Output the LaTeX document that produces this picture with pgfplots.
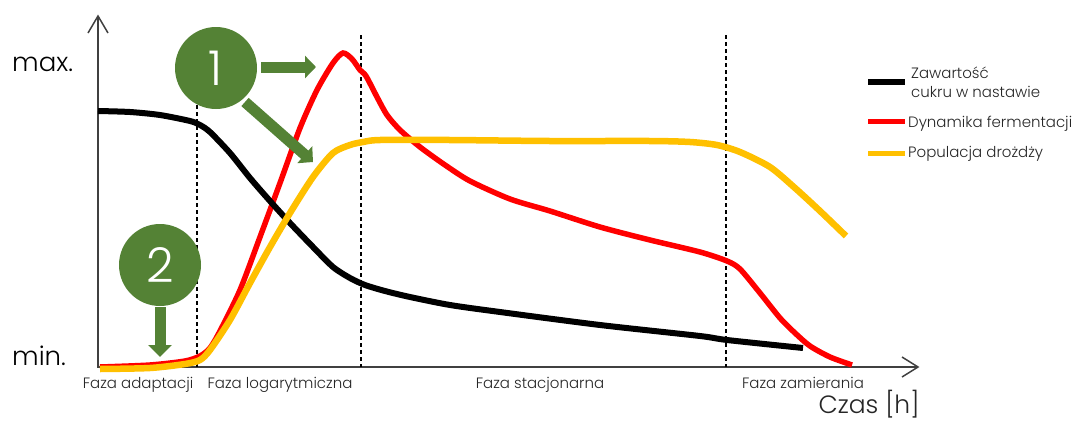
\documentclass[border=0pt]{standalone}
\usepackage{pgfplots}
\pgfplotsset{compat=1.18}
\usepackage{fontspec}
\setmainfont{Poppins}[UprightFont={* Light}]
\usetikzlibrary{arrows.meta}
\definecolor{cred}{RGB}{255,0,0}
\definecolor{cyel}{RGB}{255,192,0}
\definecolor{cgreen}{RGB}{84,130,53}
\definecolor{axgray}{RGB}{64,64,64}
\definecolor{txt}{RGB}{38,38,38}
\begin{document}
\begin{tikzpicture}
\begin{axis}[width=1080pt,height=421pt,scale only axis,
  xmin=0,xmax=1080,ymin=0,ymax=421,y dir=reverse,hide axis,clip=false]
\path (axis cs:0,0) rectangle (axis cs:1080,421);
% axes
\draw[axgray,line width=1.5pt] (axis cs:98,16) -- (axis cs:98,367) -- (axis cs:918,367);
\draw[axgray,line width=1.5pt,line join=miter] (axis cs:88,33) -- (axis cs:98,16) -- (axis cs:108,33);
\draw[axgray,line width=1.5pt,line join=miter] (axis cs:902,357) -- (axis cs:918,367) -- (axis cs:902,377);
% dashed phase lines
\draw[black,line width=1.2pt,dash pattern=on 4pt off 3pt] (axis cs:197,105) -- (axis cs:197,367);
\draw[black,line width=1.2pt,dash pattern=on 4pt off 3pt] (axis cs:361,35) -- (axis cs:361,367);
\draw[black,line width=1.2pt,dash pattern=on 4pt off 3pt] (axis cs:726,35) -- (axis cs:726,367);
% data
\addplot[cred,line width=5.5pt,smooth,tension=0.45] coordinates {
(100,367)(150,365)(185,361)(200,356)(210,348)(220,331)(240,290)(260,237)(280,183)(300,128)(317,90)(333,63)(343,53)(352,59)(360,70)(366,76)(377,97)(387,115)(400,130)(420,147)(445,165)(470,181)(510,199)(550,211)(600,227)(650,240)(700,252)(727,261)(740,269)(760,293)(780,318)(795,333)(810,346)(830,357)(852,365)};
\addplot[black,line width=6pt,smooth,tension=0.45] coordinates {
(98,111)(130,112)(160,115)(190,121)(200,125)(210,132)(230,153)(250,178)(270,201)(290,223)(313,247)(333,267)(350,278)(365,285)(385,291)(410,297)(450,305)(500,312)(600,325)(700,336)(727,340)(803,348)};
\addplot[cyel,line width=6.5pt,smooth,tension=0.45] coordinates {
(100,369)(150,368)(185,364)(200,360)(210,350)(230,320)(250,283)(270,247)(290,213)(313,177)(333,153)(350,145)(363,142)(380,140)(450,140)(550,141)(650,141)(690,142)(717,145)(740,152)(770,167)(795,188)(820,211)(846,236)};
% labels
\node[anchor=base west,inner sep=0,font=\fontsize{26}{30}\selectfont,black] at (axis cs:12,71) {max.};
\node[anchor=base west,inner sep=0,font=\fontsize{26}{30}\selectfont,black] at (axis cs:12,365) {min.};
\node[anchor=base,inner sep=0,font=\fontsize{15}{17}\selectfont,txt] at (axis cs:138,388) {Faza adaptacji};
\node[anchor=base,inner sep=0,font=\fontsize{15}{17}\selectfont,txt] at (axis cs:280,388) {Faza logarytmiczna};
\node[anchor=base,inner sep=0,font=\fontsize{15}{17}\selectfont,txt] at (axis cs:540,388) {Faza stacjonarna};
\node[anchor=base,inner sep=0,font=\fontsize{15}{17}\selectfont,txt] at (axis cs:803,388) {Faza zamierania};
\node[anchor=base,inner sep=0,font=\fontsize{25}{28}\selectfont,txt] at (axis cs:869,413) {Czas [h]};
% legend
\draw[black,line width=6pt] (axis cs:868,82) -- (axis cs:905,82);
\draw[cred,line width=5pt] (axis cs:868,121) -- (axis cs:905,121);
\draw[cyel,line width=5pt] (axis cs:868,153) -- (axis cs:905,153);
\node[anchor=base west,inner sep=0,font=\fontsize{15}{17}\selectfont,txt] at (axis cs:911,78) {Zawartość};
\node[anchor=base west,inner sep=0,font=\fontsize{15}{17}\selectfont,txt] at (axis cs:911,97) {cukru w nastawie};
\node[anchor=base west,inner sep=0,font=\fontsize{15}{17}\selectfont,txt] at (axis cs:908,127) {Dynamika fermentacji};
\node[anchor=base west,inner sep=0,font=\fontsize{15}{17}\selectfont,txt] at (axis cs:908,157) {Populacja drożdży};
% green annotations
\fill[cgreen] (axis cs:216,68) circle[radius=41pt];
\fill[cgreen] (axis cs:160,265) circle[radius=41pt];
\node[white,inner sep=0,font=\fontsize{48}{50}\selectfont] at (axis cs:216,68) {1};
\node[white,inner sep=0,font=\fontsize{48}{50}\selectfont] at (axis cs:160,265) {2};
\draw[cgreen,line width=11pt,-{Triangle[width=22pt,length=11pt]}] (axis cs:261,67) -- (axis cs:316,67);
\draw[cgreen,line width=11pt,-{Triangle[width=22pt,length=11pt]}] (axis cs:245,102) -- (axis cs:313,162);
\draw[cgreen,line width=11pt,-{Triangle[width=23pt,length=12pt]}] (axis cs:160,307) -- (axis cs:160,357);
\end{axis}
\end{tikzpicture}
\end{document}
